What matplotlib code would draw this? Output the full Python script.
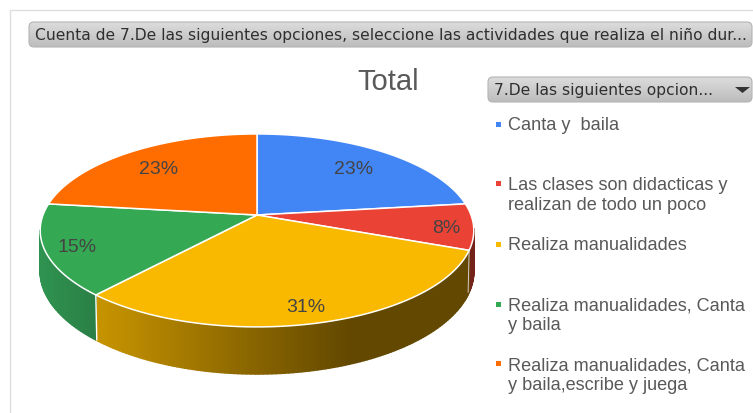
import numpy as np
import matplotlib
matplotlib.use("Agg")
import matplotlib.pyplot as plt
from matplotlib.patches import Polygon, FancyBboxPatch, Rectangle

categories = ["Canta y  baila",
              "Las clases son didacticas y\nrealizan de todo un poco",
              "Realiza manualidades",
              "Realiza manualidades, Canta\ny baila",
              "Realiza manualidades, Canta\ny baila,escribe y juega"]
counts = [6, 2, 8, 4, 6]
colors = ["#4285F4", "#EA4335", "#F8B900", "#34A853", "#FF6D00"]
side_light = ["#2c59a3", "#8f2a20", "#C89400", "#2F9350", "#a04500"]
side_dark = ["#2c59a3", "#5a1a14", "#624800", "#2A7F45", "#a04500"]
label_r = [0.75, 0.88, 0.85, 0.85, 0.75]
legend_y = [124, 193.5, 244, 314, 373.5]
title = "Total"
filter_top = "Cuenta de 7.De las siguientes opciones, seleccione las actividades que realiza el niño dur..."
filter_legend = "7.De las siguientes opcion..."

W, H = 753, 413
fig = plt.figure(figsize=(W / 100, H / 100), dpi=100)
ax = fig.add_axes([0, 0, 1, 1])
ax.set_xlim(0, W)
ax.set_ylim(H, 0)
ax.axis("off")

CX, CY, RX, RY, K, D = 257, 215, 214, 94, 0.16, 39.5
TXT = "#595959"


def proj(theta, r=1.0):
    u, v = r * np.sin(theta), r * np.cos(theta)
    d = 1 + K * v
    return CX + RX * u / d, CY - RY * v / d


def side_depth(theta):
    return D / (1 + K * np.cos(theta))


def hex2rgb(c):
    return np.array(matplotlib.colors.to_rgb(c))


vals = np.array(counts, float)
edges = np.concatenate([[0], np.cumsum(vals) / vals.sum() * 2 * np.pi])
t_lo, t_hi = np.radians(98), np.radians(261)

# side wall as shaded strips, each one overlapping the next to avoid seams
for i in range(len(vals)):
    a, b = max(edges[i], t_lo), min(edges[i + 1], t_hi)
    if b <= a:
        continue
    ts = np.linspace(a, b, int((b - a) * 60) + 2)
    for t0, t1 in zip(ts[:-1], ts[1:]):
        x0, y0 = proj(t0)
        x1, y1 = proj(t1)
        d0, d1 = side_depth(t0), side_depth(t1)
        xm = (x0 + x1) / 2
        if i == 2:
            f = np.clip((xm - 96) / (350 - 96), 0, 1)
        elif i == 3:
            f = np.clip((xm - 40) / 56, 0, 1)
        else:
            f = 0.5
        col = hex2rgb(side_light[i]) * (1 - f) + hex2rgb(side_dark[i]) * f
        ax.add_patch(Polygon([(x0, y0), (x1, y1), (x1, y1 + d1), (x0, y0 + d0)],
                             closed=True, fc=col, ec=col, lw=1.2, joinstyle="round",
                             zorder=2))

# separator on the wall between yellow and green
x, y = proj(edges[3])
ax.plot([x, x + 1], [y, y + side_depth(edges[3])], color="white", lw=1.0, zorder=3)
x, y = proj(edges[2])
ax.plot([x, x - 1], [y, y + side_depth(edges[2])], color="#d8c8c8", lw=0.7, zorder=3)

# top face
for i in range(len(vals)):
    ts = np.linspace(edges[i], edges[i + 1], 120)
    xs, ys = proj(ts)
    pts = [(CX, CY)] + list(zip(xs, ys))
    ax.add_patch(Polygon(pts, closed=True, fc=colors[i], ec="white", lw=1.1,
                         joinstyle="round", zorder=4))
    mid = (edges[i] + edges[i + 1]) / 2
    lx, ly = proj(mid, label_r[i])
    ax.text(lx - 1, ly + 3, f"{vals[i] / vals.sum() * 100:.0f}%", ha="center", va="center",
            fontsize=14, color="#444444", family="Liberation Sans", zorder=5)

ax.text(388, 82, title, ha="center", va="center", fontsize=21, color=TXT,
        family="Liberation Sans", zorder=5)

# frame lines
ax.plot([10, 10, W], [H, 10, 10], color="#dedede", lw=1.0, zorder=1)


def button(x0, y0, x1, y1, text, fs):
    box = FancyBboxPatch((x0 + 3, y0 + 3), x1 - x0 - 6, y1 - y0 - 6,
                         boxstyle="round,pad=3,rounding_size=5",
                         fc="none", ec="#b4b4b4", lw=0.8, zorder=6)
    ax.add_patch(box)
    grad = np.linspace(0.86, 0.74, 32).reshape(-1, 1)
    im = ax.imshow(grad, extent=(x0, x1, y1, y0), cmap="gray", vmin=0, vmax=1,
                   aspect="auto", zorder=5)
    im.set_clip_path(box)
    ax.text(x0 + 6, (y0 + y1) / 2 + 1, text, ha="left", va="center", fontsize=fs,
            color="#2f2f2f", family="DejaVu Sans", zorder=7)


button(29, 22, 752, 47, filter_top, 11.15)
button(488, 77, 752, 102, filter_legend, 11.15)
ax.add_patch(Polygon([(735, 87), (750, 87), (742.5, 93)], closed=True, fc="#333333",
                     ec="none", zorder=7))
ax.set_xlim(0, W)
ax.set_ylim(H, 0)

# legend
for c, name, y in zip(colors, categories, legend_y):
    first = y - (10 if "\n" in name else 0)
    ax.add_patch(Rectangle((496, first - 2.5), 5, 5, fc=c, ec="none", zorder=5))
    ax.text(508, y + 2, name, ha="left", va="center", fontsize=13.1, color=TXT,
            family="Liberation Sans", linespacing=1.17, zorder=5)

fig.savefig("out.png", dpi=100)
